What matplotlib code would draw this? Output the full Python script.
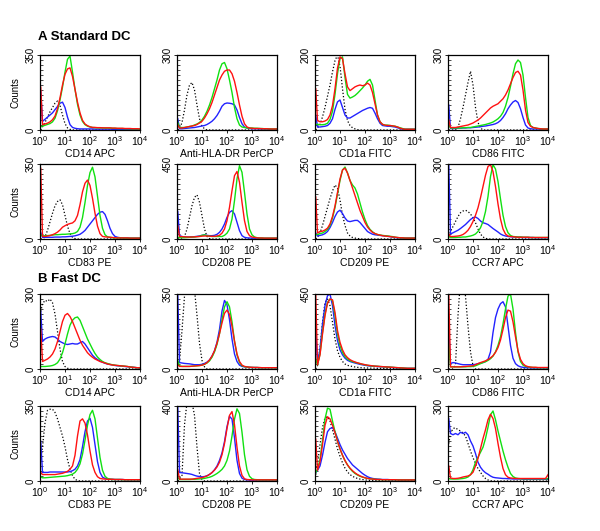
"""
Flow cytometry histograms: standard DC (A) vs fast DC (B), 8 markers each.
Each curve is counts sampled every 0.1 decade from 10^0 to 10^4
(first value = first channel, just inside the axis).
"""
import matplotlib
matplotlib.use("Agg")
import matplotlib.pyplot as plt
import numpy as np
from matplotlib.ticker import LogLocator, NullFormatter, MultipleLocator

plt.rcParams["font.family"] = ["Liberation Sans", "DejaVu Sans"]
plt.rcParams["mathtext.default"] = "regular"

# x grid in decades (log10 of fluorescence)
LOG_X = [0.03, 0.1, 0.2, 0.3, 0.4, 0.5, 0.6, 0.7, 0.8, 0.9,
         1.0, 1.1, 1.2, 1.3, 1.4, 1.5, 1.6, 1.7, 1.8, 1.9,
         2.0, 2.1, 2.2, 2.3, 2.4, 2.5, 2.6, 2.7, 2.8, 2.9,
         3.0, 3.1, 3.2, 3.3, 3.4, 3.5, 3.6, 3.7, 3.8, 3.9,
         4.0]

MARKERS = ["CD14 APC", "Anti-HLA-DR PerCP", "CD1a FITC", "CD86 FITC",
           "CD83 PE", "CD208 PE", "CD209 PE", "CCR7 APC"]
A_YMAX = [350, 300, 200, 300, 350, 450, 250, 300]
B_YMAX = [300, 350, 450, 350, 350, 400, 350, 300]

# ---------------- A Standard DC ----------------
A_CD14_DOT = [0, 15, 35, 60, 85, 105, 125, 135, 115, 70,
              30, 10, 3, 0, 0, 0, 0, 0, 0, 0,
              0, 0, 0, 0, 0, 0, 0, 0, 0, 0,
              0, 0, 0, 0, 0, 0, 0, 0, 0, 0, 0]
A_CD14_RED = [200, 25, 28, 32, 38, 48, 65, 100, 150, 210,
              260, 285, 290, 250, 190, 130, 80, 45, 28, 20,
              15, 12, 12, 11, 11, 10, 10, 10, 10, 9,
              9, 8, 8, 8, 7, 7, 7, 6, 6, 6, 5]
A_CD14_GRN = [15, 18, 22, 26, 30, 38, 55, 90, 140, 200,
              270, 330, 345, 270, 190, 120, 70, 40, 25, 18,
              14, 12, 11, 10, 10, 10, 9, 9, 9, 8,
              8, 7, 7, 7, 6, 6, 6, 5, 5, 5, 4]
A_CD14_BLU = [180, 40, 50, 60, 70, 80, 95, 110, 125, 130,
              105, 60, 25, 12, 8, 6, 5, 5, 5, 5,
              5, 5, 4, 4, 4, 4, 4, 4, 4, 3,
              3, 3, 3, 3, 3, 3, 2, 2, 2, 2, 2]

A_HLA_DOT = [0, 5, 30, 80, 140, 180, 190, 160, 100, 45,
             15, 5, 0, 0, 0, 0, 0, 0, 0, 0,
             0, 0, 0, 0, 0, 0, 0, 0, 0, 0,
             0, 0, 0, 0, 0, 0, 0, 0, 0, 0, 0]
A_HLA_RED = [20, 8, 8, 10, 12, 14, 16, 18, 22, 28,
             35, 48, 65, 85, 110, 140, 170, 200, 220, 235,
             240, 240, 225, 195, 150, 100, 55, 25, 12, 8,
             7, 6, 6, 6, 5, 5, 5, 4, 4, 4, 4]
A_HLA_GRN = [30, 10, 10, 10, 12, 14, 16, 20, 24, 30,
             40, 55, 75, 100, 130, 165, 200, 240, 265, 270,
             245, 200, 150, 90, 45, 20, 12, 10, 8, 8,
             8, 7, 7, 6, 6, 5, 5, 5, 4, 4, 4]
A_HLA_BLU = [45, 5, 5, 6, 7, 8, 9, 10, 12, 14,
             16, 18, 22, 28, 35, 45, 58, 75, 95, 105,
             108, 107, 105, 100, 80, 50, 25, 12, 8, 6,
             5, 5, 5, 4, 4, 4, 4, 3, 3, 3, 3]

A_CD1A_DOT = [0, 5, 15, 35, 60, 90, 120, 155, 185, 200,
              170, 110, 55, 25, 12, 6, 3, 1, 0, 0,
              0, 0, 0, 0, 0, 0, 0, 0, 0, 0,
              0, 0, 0, 0, 0, 0, 0, 0, 0, 0, 0]
A_CD1A_RED = [110, 25, 22, 22, 24, 28, 40, 65, 110, 165,
              195, 190, 150, 115, 105, 110, 115, 118, 120, 118,
              120, 125, 120, 100, 70, 40, 22, 15, 13, 12,
              12, 11, 10, 8, 5, 3, 2, 2, 2, 2, 2]
A_CD1A_GRN = [15, 15, 14, 14, 15, 18, 28, 50, 95, 150,
              190, 195, 140, 95, 85, 88, 92, 98, 105, 112,
              120, 130, 135, 120, 80, 40, 22, 15, 13, 13,
              12, 11, 10, 8, 6, 4, 2, 2, 2, 2, 2]
A_CD1A_BLU = [40, 8, 8, 9, 10, 12, 18, 30, 55, 75,
              80, 60, 40, 32, 32, 36, 40, 44, 48, 52,
              55, 58, 60, 58, 45, 30, 18, 12, 11, 10,
              10, 9, 8, 6, 4, 2, 2, 2, 2, 2, 2]

A_CD86_DOT = [0, 0, 0, 0, 10, 45, 90, 140, 190, 235,
              180, 90, 30, 8, 0, 0, 0, 0, 0, 0,
              0, 0, 0, 0, 0, 0, 0, 0, 0, 0,
              0, 0, 0, 0, 0, 0, 0, 0, 0, 0, 0]
A_CD86_RED = [40, 10, 10, 10, 12, 14, 16, 18, 20, 24,
              28, 34, 40, 48, 58, 68, 78, 88, 95, 100,
              105, 115, 125, 140, 160, 185, 210, 230, 235, 220,
              160, 80, 30, 15, 10, 8, 6, 5, 4, 4, 4]
A_CD86_GRN = [20, 8, 8, 8, 8, 8, 9, 9, 10, 10,
              12, 14, 16, 18, 20, 22, 25, 28, 32, 38,
              45, 55, 70, 95, 130, 175, 225, 265, 280, 270,
              220, 130, 50, 18, 10, 8, 6, 5, 4, 4, 4]
A_CD86_BLU = [100, 6, 6, 6, 7, 7, 8, 8, 9, 9,
              10, 11, 12, 13, 15, 16, 18, 20, 22, 25,
              30, 38, 50, 65, 85, 100, 112, 118, 110, 85,
              50, 20, 8, 5, 4, 4, 4, 3, 3, 3, 3]

A_CD83_DOT = [0, 0, 10, 40, 80, 120, 155, 175, 183, 160,
              110, 60, 25, 8, 2, 0, 0, 0, 0, 0,
              0, 0, 0, 0, 0, 0, 0, 0, 0, 0,
              0, 0, 0, 0, 0, 0, 0, 0, 0, 0, 0]
A_CD83_RED = [330, 12, 12, 14, 16, 20, 25, 32, 42, 55,
              62, 68, 72, 75, 85, 110, 160, 220, 260, 275,
              250, 190, 120, 60, 25, 12, 10, 9, 8, 7,
              6, 5, 5, 5, 5, 5, 4, 4, 4, 4, 4]
A_CD83_GRN = [20, 15, 15, 16, 17, 18, 20, 20, 21, 22,
              22, 23, 24, 25, 28, 35, 55, 100, 170, 250,
              310, 335, 290, 200, 110, 50, 20, 10, 8, 6,
              5, 5, 5, 5, 4, 4, 4, 4, 4, 4, 4]
A_CD83_BLU = [30, 8, 8, 8, 8, 8, 9, 9, 9, 10,
              10, 11, 12, 13, 15, 18, 22, 30, 40, 55,
              70, 85, 100, 115, 125, 128, 115, 85, 50, 25,
              12, 8, 6, 5, 5, 5, 4, 4, 4, 4, 4]

A_CD208_DOT = [0, 0, 0, 15, 60, 130, 200, 250, 265, 220,
               140, 60, 15, 3, 0, 0, 0, 0, 0, 0,
               0, 0, 0, 0, 0, 0, 0, 0, 0, 0,
               0, 0, 0, 0, 0, 0, 0, 0, 0, 0, 0]
A_CD208_RED = [80, 15, 14, 13, 12, 12, 12, 13, 14, 15,
               17, 18, 18, 17, 16, 16, 18, 22, 35, 60,
               110, 190, 290, 380, 405, 340, 220, 110, 45, 20,
               12, 9, 7, 6, 6, 5, 5, 5, 5, 5, 5]
A_CD208_GRN = [10, 8, 8, 8, 9, 10, 11, 12, 14, 16,
               22, 25, 20, 17, 15, 15, 15, 15, 15, 22,
               35, 60, 120, 230, 360, 440, 400, 280, 150, 60,
               25, 12, 8, 6, 6, 5, 5, 5, 5, 5, 5]
A_CD208_BLU = [165, 20, 15, 12, 12, 12, 13, 14, 16, 18,
               22, 24, 22, 20, 20, 22, 28, 40, 60, 90,
               130, 160, 170, 150, 100, 50, 20, 10, 7, 6,
               5, 5, 5, 5, 4, 4, 4, 4, 4, 4, 4]

A_CD209_DOT = [0, 5, 20, 45, 75, 105, 135, 160, 180, 170,
               130, 80, 45, 20, 10, 5, 3, 2, 0, 0,
               0, 0, 0, 0, 0, 0, 0, 0, 0, 0,
               0, 0, 0, 0, 0, 0, 0, 0, 0, 0, 0]
A_CD209_RED = [140, 20, 25, 26, 30, 36, 50, 75, 110, 155,
               200, 230, 236, 220, 195, 170, 145, 120, 95, 75,
               55, 40, 30, 22, 18, 15, 13, 11, 10, 9,
               8, 7, 6, 5, 4, 4, 3, 3, 3, 3, 3]
A_CD209_GRN = [15, 15, 18, 20, 25, 32, 45, 70, 105, 150,
               195, 230, 240, 220, 195, 180, 170, 150, 120, 90,
               65, 45, 32, 24, 18, 15, 13, 12, 11, 10,
               9, 8, 6, 5, 4, 4, 3, 3, 3, 3, 3]
A_CD209_BLU = [20, 10, 12, 14, 18, 25, 38, 55, 75, 90,
               96, 85, 70, 60, 58, 60, 62, 62, 55, 45,
               35, 25, 20, 16, 14, 13, 12, 11, 10, 9,
               8, 6, 5, 4, 4, 3, 3, 3, 3, 3, 3]

A_CCR7_DOT = [10, 30, 50, 70, 90, 105, 112, 115, 110, 100,
              85, 65, 40, 20, 8, 3, 0, 0, 0, 0,
              0, 0, 0, 0, 0, 0, 0, 0, 0, 0,
              0, 0, 0, 0, 0, 0, 0, 0, 0, 0, 0]
A_CCR7_RED = [20, 10, 10, 11, 12, 14, 18, 25, 35, 50,
              70, 95, 125, 165, 210, 255, 290, 297, 270, 210,
              140, 80, 40, 20, 12, 10, 9, 8, 7, 7,
              7, 7, 7, 6, 6, 6, 6, 6, 6, 6, 6]
A_CCR7_GRN = [10, 6, 6, 6, 7, 7, 8, 8, 10, 12,
              15, 20, 30, 45, 70, 110, 170, 250, 297, 280,
              230, 160, 95, 50, 25, 14, 10, 9, 8, 8,
              7, 7, 7, 6, 6, 6, 6, 6, 6, 6, 6]
A_CCR7_BLU = [300, 20, 25, 30, 35, 42, 50, 58, 68, 78,
              85, 88, 82, 72, 65, 62, 58, 50, 42, 35,
              28, 20, 15, 12, 10, 9, 8, 8, 7, 7,
              6, 6, 6, 6, 6, 5, 5, 5, 5, 5, 5]

# ---------------- B Fast DC ----------------
B_CD14_DOT = [230, 260, 275, 270, 280, 265, 220, 150, 80, 30,
              10, 3, 0, 0, 0, 0, 0, 0, 0, 0,
              0, 0, 0, 0, 0, 0, 0, 0, 0, 0,
              0, 0, 0, 0, 0, 0, 0, 0, 0, 0, 0]
B_CD14_RED = [160, 30, 35, 40, 48, 60, 80, 110, 150, 190,
              215, 222, 210, 190, 165, 140, 115, 95, 80, 65,
              55, 47, 40, 35, 30, 27, 24, 20, 18, 16,
              15, 14, 13, 12, 11, 10, 8, 7, 6, 5, 5]
B_CD14_GRN = [10, 10, 10, 11, 12, 14, 18, 25, 40, 65,
              100, 140, 175, 195, 205, 208, 195, 170, 145, 120,
              100, 80, 62, 48, 38, 30, 25, 22, 19, 17,
              15, 14, 13, 12, 11, 10, 8, 7, 6, 5, 5]
B_CD14_BLU = [230, 110, 120, 125, 128, 130, 128, 120, 110, 105,
              100, 98, 100, 102, 100, 100, 105, 110, 100, 85,
              70, 55, 45, 38, 32, 27, 23, 20, 18, 16,
              14, 13, 12, 11, 10, 9, 8, 7, 6, 5, 4]

B_HLA_DOT = [0, 40, 180, 340, 400, 400, 400, 370, 250, 120,
             40, 10, 0, 0, 0, 0, 0, 0, 0, 0,
             0, 0, 0, 0, 0, 0, 0, 0, 0, 0,
             0, 0, 0, 0, 0, 0, 0, 0, 0, 0, 0]
B_HLA_RED = [20, 12, 12, 12, 12, 12, 13, 14, 15, 16,
             18, 22, 30, 42, 60, 85, 120, 165, 215, 260,
             275, 255, 200, 130, 70, 35, 18, 12, 10, 8,
             8, 7, 7, 7, 6, 6, 6, 6, 6, 6, 6]
B_HLA_GRN = [40, 15, 12, 12, 12, 12, 13, 14, 15, 16,
             18, 22, 28, 38, 55, 80, 115, 165, 230, 290,
             314, 290, 220, 130, 65, 30, 15, 11, 9, 8,
             7, 7, 7, 6, 6, 6, 6, 6, 6, 6, 6]
B_HLA_BLU = [350, 30, 28, 26, 25, 24, 22, 20, 20, 20,
             22, 26, 32, 42, 60, 85, 125, 185, 270, 320,
             300, 230, 140, 70, 35, 18, 12, 10, 9, 8,
             7, 7, 7, 6, 6, 6, 6, 6, 6, 6, 6]

B_CD1A_DOT = [0, 20, 120, 280, 400, 420, 380, 280, 180, 110,
              70, 45, 30, 22, 18, 15, 12, 10, 8, 7,
              6, 6, 5, 5, 5, 4, 4, 4, 3, 3,
              3, 3, 2, 2, 2, 2, 2, 2, 2, 2, 2]
B_CD1A_RED = [450, 25, 85, 210, 320, 395, 420, 415, 340, 230,
              160, 115, 85, 68, 56, 48, 42, 37, 33, 29,
              26, 23, 21, 19, 17, 16, 15, 14, 13, 12,
              11, 10, 9, 8, 7, 6, 5, 4, 4, 4, 4]
B_CD1A_GRN = [60, 25, 90, 220, 330, 400, 420, 410, 320, 210,
              140, 100, 75, 60, 50, 44, 40, 36, 32, 28,
              25, 22, 20, 18, 17, 16, 15, 14, 13, 12,
              11, 10, 9, 8, 7, 6, 5, 4, 4, 4, 4]
B_CD1A_BLU = [230, 30, 120, 270, 380, 440, 450, 380, 260, 170,
              115, 85, 65, 52, 45, 40, 36, 32, 28, 25,
              22, 20, 18, 17, 16, 15, 14, 13, 12, 11,
              10, 9, 8, 7, 6, 5, 4, 4, 4, 4, 4]

B_CD86_DOT = [0, 0, 0, 20, 250, 420, 420, 340, 200, 80,
              15, 0, 0, 0, 0, 0, 0, 0, 0, 0,
              0, 0, 0, 0, 0, 0, 0, 0, 0, 0,
              0, 0, 0, 0, 0, 0, 0, 0, 0, 0, 0]
B_CD86_RED = [350, 10, 10, 10, 10, 10, 11, 12, 13, 14,
              15, 20, 25, 30, 34, 38, 44, 52, 62, 78,
              100, 135, 185, 240, 275, 270, 220, 150, 85, 45,
              25, 15, 11, 9, 8, 8, 7, 7, 7, 7, 7]
B_CD86_GRN = [120, 10, 10, 10, 10, 10, 10, 10, 11, 11,
              12, 15, 20, 25, 30, 34, 40, 48, 60, 80,
              110, 150, 210, 280, 340, 350, 280, 170, 80, 35,
              18, 12, 10, 8, 7, 7, 6, 6, 6, 6, 6]
B_CD86_BLU = [190, 25, 30, 28, 25, 22, 20, 20, 20, 20,
              20, 22, 25, 28, 30, 35, 45, 80, 170, 240,
              280, 305, 314, 290, 200, 110, 50, 25, 15, 10,
              8, 6, 6, 5, 5, 5, 5, 5, 5, 5, 5]

B_CD83_DOT = [100, 160, 270, 330, 335, 335, 320, 290, 250, 210,
              160, 100, 55, 25, 8, 2, 0, 0, 0, 0,
              0, 0, 0, 0, 0, 0, 0, 0, 0, 0,
              0, 0, 0, 0, 0, 0, 0, 0, 0, 0, 0]
B_CD83_RED = [40, 30, 30, 30, 30, 30, 30, 32, 34, 36,
              40, 45, 55, 70, 120, 210, 280, 290, 270, 215,
              140, 75, 40, 20, 12, 10, 9, 8, 8, 8,
              7, 7, 7, 7, 6, 6, 6, 6, 6, 6, 6]
B_CD83_GRN = [20, 15, 15, 16, 17, 18, 19, 20, 21, 22,
              23, 25, 28, 32, 40, 55, 80, 125, 190, 260,
              310, 330, 290, 200, 110, 50, 22, 12, 9, 7,
              7, 7, 7, 6, 6, 6, 6, 6, 6, 6, 6]
B_CD83_BLU = [185, 40, 40, 40, 42, 42, 42, 42, 42, 42,
              42, 42, 44, 48, 55, 70, 100, 160, 230, 280,
              293, 250, 170, 90, 40, 18, 12, 10, 8, 8,
              7, 7, 7, 7, 6, 6, 6, 6, 6, 6, 6]

B_CD208_DOT = [0, 10, 30, 300, 420, 420, 420, 350, 180, 40,
               8, 0, 0, 0, 0, 0, 0, 0, 0, 0,
               0, 0, 0, 0, 0, 0, 0, 0, 0, 0,
               0, 0, 0, 0, 0, 0, 0, 0, 0, 0, 0]
B_CD208_RED = [60, 10, 10, 10, 10, 10, 10, 12, 14, 16,
               18, 22, 27, 35, 45, 58, 75, 100, 140, 200,
               280, 350, 370, 300, 180, 80, 30, 12, 8, 7,
               6, 6, 6, 6, 6, 6, 6, 6, 6, 6, 6]
B_CD208_GRN = [20, 8, 8, 8, 8, 8, 9, 9, 10, 11,
               12, 14, 17, 20, 25, 32, 40, 50, 62, 80,
               110, 160, 240, 330, 385, 360, 260, 140, 60, 25,
               12, 8, 7, 6, 6, 6, 6, 6, 6, 6, 6]
B_CD208_BLU = [400, 45, 44, 42, 40, 38, 35, 30, 26, 24,
               22, 24, 28, 35, 45, 60, 80, 110, 150, 210,
               290, 345, 330, 230, 110, 40, 15, 8, 6, 5,
               5, 5, 5, 5, 5, 5, 5, 5, 5, 5, 5]

B_CD209_DOT = [30, 80, 170, 250, 295, 300, 280, 240, 195, 150,
               115, 85, 60, 42, 30, 22, 16, 12, 9, 7,
               5, 4, 3, 3, 2, 2, 2, 2, 2, 2,
               2, 2, 2, 2, 2, 2, 2, 2, 2, 2, 2]
B_CD209_RED = [195, 50, 90, 170, 260, 300, 290, 260, 225, 185,
               150, 120, 95, 75, 60, 48, 38, 30, 24, 19,
               15, 12, 10, 9, 8, 7, 7, 6, 6, 6,
               6, 6, 6, 5, 5, 5, 5, 5, 5, 5, 5]
B_CD209_GRN = [40, 55, 100, 190, 290, 340, 335, 280, 230, 185,
               150, 120, 95, 75, 58, 45, 35, 28, 22, 18,
               15, 12, 10, 9, 8, 7, 7, 6, 6, 6,
               6, 6, 6, 5, 5, 5, 5, 5, 5, 5, 5]
B_CD209_BLU = [40, 50, 70, 120, 180, 230, 245, 249, 230, 200,
               170, 145, 125, 105, 90, 75, 65, 55, 45, 35,
               27, 20, 15, 12, 10, 9, 8, 7, 7, 7,
               6, 6, 6, 6, 5, 5, 5, 5, 5, 5, 5]

B_CCR7_DOT = [150, 190, 210, 213, 205, 200, 192, 180, 150, 120,
              93, 70, 50, 35, 20, 10, 4, 1, 0, 0,
              0, 0, 0, 0, 0, 0, 0, 0, 0, 0,
              0, 0, 0, 0, 0, 0, 0, 0, 0, 0, 0]
B_CCR7_RED = [60, 12, 10, 10, 11, 13, 16, 18, 20, 25,
              35, 60, 90, 130, 170, 205, 245, 267, 250, 210,
              150, 95, 50, 25, 15, 12, 11, 10, 10, 10,
              10, 10, 10, 10, 10, 10, 10, 10, 10, 10, 25]
B_CCR7_GRN = [10, 8, 8, 8, 8, 9, 10, 12, 16, 25,
              45, 75, 95, 115, 135, 170, 215, 265, 280, 245,
              200, 160, 120, 85, 55, 30, 18, 12, 10, 9,
              9, 9, 9, 9, 9, 9, 9, 9, 9, 9, 9]
B_CCR7_BLU = [250, 190, 185, 190, 185, 195, 190, 195, 185, 160,
              140, 110, 75, 55, 42, 33, 27, 20, 15, 13,
              12, 11, 10, 10, 9, 9, 8, 8, 8, 8,
              7, 7, 7, 7, 7, 7, 7, 7, 7, 7, 7]

# (dotted isotype, blue, green, red) per panel, in marker order
A_SETS = [
    (A_CD14_DOT, A_CD14_BLU, A_CD14_GRN, A_CD14_RED),
    (A_HLA_DOT, A_HLA_BLU, A_HLA_GRN, A_HLA_RED),
    (A_CD1A_DOT, A_CD1A_BLU, A_CD1A_GRN, A_CD1A_RED),
    (A_CD86_DOT, A_CD86_BLU, A_CD86_GRN, A_CD86_RED),
    (A_CD83_DOT, A_CD83_BLU, A_CD83_GRN, A_CD83_RED),
    (A_CD208_DOT, A_CD208_BLU, A_CD208_GRN, A_CD208_RED),
    (A_CD209_DOT, A_CD209_BLU, A_CD209_GRN, A_CD209_RED),
    (A_CCR7_DOT, A_CCR7_BLU, A_CCR7_GRN, A_CCR7_RED),
]
B_SETS = [
    (B_CD14_DOT, B_CD14_BLU, B_CD14_GRN, B_CD14_RED),
    (B_HLA_DOT, B_HLA_BLU, B_HLA_GRN, B_HLA_RED),
    (B_CD1A_DOT, B_CD1A_BLU, B_CD1A_GRN, B_CD1A_RED),
    (B_CD86_DOT, B_CD86_BLU, B_CD86_GRN, B_CD86_RED),
    (B_CD83_DOT, B_CD83_BLU, B_CD83_GRN, B_CD83_RED),
    (B_CD208_DOT, B_CD208_BLU, B_CD208_GRN, B_CD208_RED),
    (B_CD209_DOT, B_CD209_BLU, B_CD209_GRN, B_CD209_RED),
    (B_CCR7_DOT, B_CCR7_BLU, B_CCR7_GRN, B_CCR7_RED),
]

# --- layout (pixels in a 600x531 canvas) ---
W, H = 600, 531
COL_LEFT = [40, 177, 315, 448]
ROW_TOP = [55, 164, 294, 406]
PW, PH = 100, 75

fig = plt.figure(figsize=(6.0, 5.31), dpi=100)
fig.patch.set_facecolor("white")

xs = 10 ** np.array(LOG_X)


def draw_panel(ax, curves, ymax, label, first_col):
    dot, blu, grn, red = curves
    ax.plot(xs, dot, color="black", lw=0.9, ls=(0, (1, 1.6)))
    ax.plot(xs, blu, color="#2222ff", lw=1.0)
    ax.plot(xs, grn, color="#11e011", lw=1.0)
    ax.plot(xs, red, color="#ff1111", lw=1.0)
    ax.set_xscale("log")
    ax.set_xlim(1, 1e4)
    ax.set_ylim(0, ymax)
    ax.set_xticks([1, 10, 100, 1000, 10000])
    ax.xaxis.set_minor_locator(LogLocator(base=10, subs=np.arange(2, 10)))
    ax.xaxis.set_minor_formatter(NullFormatter())
    ax.tick_params(axis="x", which="major", labelsize=7.5, length=2,
                   width=0.6, pad=1)
    ax.tick_params(axis="x", which="minor", length=1.5, width=0.5)
    ax.set_yticks([0, ymax])
    ax.set_yticklabels(["0", str(ymax)], rotation=90, va="center")
    ax.yaxis.set_minor_locator(MultipleLocator(ymax / 15))
    ax.tick_params(axis="y", which="major", labelsize=7, length=2,
                   width=0.6, pad=1)
    ax.tick_params(axis="y", which="minor", length=2, width=0.5,
                   direction="in")
    for sp in ax.spines.values():
        sp.set_linewidth(0.9)
    ax.set_xlabel(label, fontsize=7.5, labelpad=1)
    if first_col:
        ax.set_ylabel("Counts", fontsize=7, labelpad=4)


for block, (sets, ymaxes) in enumerate([(A_SETS, A_YMAX), (B_SETS, B_YMAX)]):
    for k in range(8):
        r = block * 2 + k // 4
        c = k % 4
        left = COL_LEFT[c]
        top = ROW_TOP[r]
        ax = fig.add_axes([left / W, 1 - (top + PH) / H, PW / W, PH / H])
        draw_panel(ax, sets[k], ymaxes[k], MARKERS[k], c == 0)

fig.text(38 / W, 1 - 37 / H, "A Standard DC", fontsize=9.5,
         fontweight="bold", ha="left", va="center")
fig.text(38 / W, 1 - 279 / H, "B Fast DC", fontsize=9.5,
         fontweight="bold", ha="left", va="center")

fig.savefig("out.png", dpi=100)
